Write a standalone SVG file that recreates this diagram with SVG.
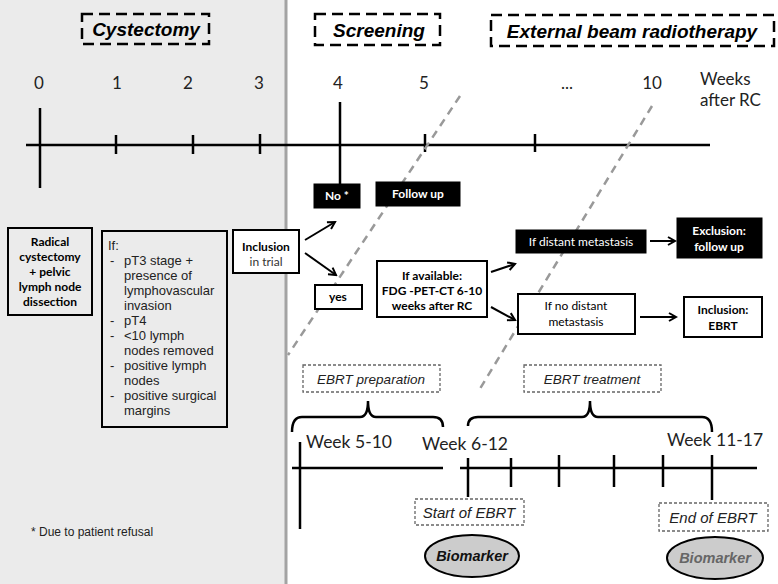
<svg xmlns="http://www.w3.org/2000/svg" width="778" height="584" viewBox="0 0 778 584">
<defs>
<marker id="arr" markerWidth="10" markerHeight="10" refX="8" refY="5" orient="auto" markerUnits="userSpaceOnUse">
<path d="M1,1 L8,5 L1,9" fill="none" stroke="#000" stroke-width="2"/>
</marker>
<style>
.tl{stroke:#000;stroke-width:2.5;fill:none}
.num{font-family:Lato,"Open Sans",sans-serif;font-size:17px;fill:#222;text-anchor:middle}
.title{font-family:"Liberation Sans",Arial,sans-serif;font-size:19px;font-weight:bold;font-style:italic;fill:#000;text-anchor:middle}
.tbox{fill:none;stroke:#000;stroke-width:2.5;stroke-dasharray:11 6}
.dash{stroke:#999;stroke-width:2.5;stroke-dasharray:8 6;fill:none}
.wbox{fill:#fff;stroke:#000;stroke-width:2}
.gfill{fill:#ebebeb;stroke:#000;stroke-width:2}
.bbox{fill:#000;stroke:#000;stroke-width:1}
.lb{font-family:Lato,"Open Sans",sans-serif;font-size:12px;text-anchor:middle;fill:#000}
.b{font-weight:bold}
.w{fill:#fff}
.arial{font-family:"Liberation Sans",Arial,sans-serif;font-size:13px;fill:#222}
.gbox{fill:none;stroke:#666;stroke-width:1.3;stroke-dasharray:3 2}
.it{font-family:"Liberation Sans",Arial,sans-serif;font-style:italic;text-anchor:middle;fill:#222}
.wk{font-family:Lato,"Open Sans",sans-serif;font-size:17.5px;fill:#222}
.conn{stroke:#000;stroke-width:2;fill:none;marker-end:url(#arr)}
</style>
</defs>
<rect x="0" y="0" width="778" height="584" fill="#fff"/>
<rect x="0" y="0" width="286" height="584" fill="#ebebeb"/>
<line x1="286" y1="0" x2="286" y2="584" stroke="#a3a3a3" stroke-width="3"/>

<g id="titles">
<rect class="tbox" x="82" y="14" width="127" height="30"/>
<text class="title" x="146" y="36">Cystectomy</text>
<rect class="tbox" x="315" y="14" width="125" height="31"/>
<text class="title" x="379" y="37">Screening</text>
<rect class="tbox" x="491" y="15" width="283" height="31"/>
<text class="title" x="632" y="38">External beam radiotherapy</text>
</g>

<g id="timeline-top">
<text class="num" x="39" y="89">0</text>
<text class="num" x="117" y="89">1</text>
<text class="num" x="188" y="89">2</text>
<text class="num" x="259" y="89">3</text>
<text class="num" x="338" y="89">4</text>
<text class="num" x="424" y="89">5</text>
<text class="num" x="567" y="89">...</text>
<text class="num" x="652" y="89">10</text>
<text class="num" x="700" y="85" style="text-anchor:start">Weeks</text>
<text class="num" x="700" y="106" style="text-anchor:start">after RC</text>
<line class="tl" x1="26" y1="145" x2="710" y2="145"/>
<line class="tl" x1="40" y1="108" x2="40" y2="188"/>
<line class="tl" x1="116" y1="135" x2="116" y2="154"/>
<line class="tl" x1="193" y1="135" x2="193" y2="154"/>
<line class="tl" x1="260" y1="134" x2="260" y2="154"/>
<line class="tl" x1="340" y1="102" x2="340" y2="184"/>
<line class="tl" x1="425" y1="134" x2="425" y2="152"/>
<line class="tl" x1="535" y1="134" x2="535" y2="152"/>
</g>

<g id="dashed-dividers">
<line class="dash" x1="460" y1="96" x2="288" y2="355"/>
<line class="dash" x1="652" y1="106" x2="478" y2="392"/>
</g>

<g id="radical">
<rect class="gfill" x="8" y="228" width="84" height="87"/>
<text class="lb b" x="50" y="246">Radical</text>
<text class="lb b" x="50" y="261">cystectomy</text>
<text class="lb b" x="50" y="276">+ pelvic</text>
<text class="lb b" x="50" y="291">lymph node</text>
<text class="lb b" x="50" y="306">dissection</text>
</g>

<g id="criteria">
<rect class="gfill" x="102" y="231" width="125" height="196"/>
<text class="arial" x="108" y="250">If:</text>
<text class="arial" x="110" y="265">-</text>
<text class="arial" x="124" y="265">pT3 stage +</text>
<text class="arial" x="124" y="280">presence of</text>
<text class="arial" x="124" y="295">lymphovascular</text>
<text class="arial" x="124" y="310">invasion</text>
<text class="arial" x="110" y="325">-</text>
<text class="arial" x="124" y="325">pT4</text>
<text class="arial" x="110" y="340">-</text>
<text class="arial" x="124" y="340">&lt;10 lymph</text>
<text class="arial" x="124" y="355">nodes removed</text>
<text class="arial" x="110" y="370">-</text>
<text class="arial" x="124" y="370">positive lymph</text>
<text class="arial" x="124" y="385">nodes</text>
<text class="arial" x="110" y="400">-</text>
<text class="arial" x="124" y="400">positive surgical</text>
<text class="arial" x="124" y="415">margins</text>
</g>

<g id="inclusion">
<rect class="wbox" x="233" y="230" width="66" height="43"/>
<text class="lb b" x="266" y="251">Inclusion</text>
<text class="lb" x="266" y="266" style="fill:#333">in trial</text>
</g>

<g id="no">
<rect class="bbox" x="314" y="184" width="46" height="24"/>
<text class="lb b w" x="337" y="200">No *</text>
</g>

<g id="followup">
<rect class="bbox" x="376" y="182" width="84" height="24"/>
<text class="lb b w" x="418" y="198">Follow up</text>
</g>

<g id="yes">
<rect class="wbox" x="315" y="285" width="47" height="24"/>
<text class="lb b" x="338" y="301">yes</text>
</g>

<g id="pet">
<rect class="wbox" x="377" y="261" width="110" height="56"/>
<text class="lb b" x="432" y="280">If available:</text>
<text class="lb b" x="432" y="295">FDG -PET-CT 6-10</text>
<text class="lb b" x="432" y="310">weeks after RC</text>
</g>

<g id="distant">
<rect class="bbox" x="516" y="230" width="130" height="23"/>
<text class="lb w" x="581" y="246">If distant metastasis</text>
</g>

<g id="exclusion">
<rect class="bbox" x="677" y="218" width="85" height="40"/>
<text class="lb b w" x="719" y="235">Exclusion:</text>
<text class="lb b w" x="719" y="251">follow up</text>
</g>

<g id="nodistant">
<rect class="wbox" x="518" y="294" width="117" height="40"/>
<text class="lb" x="576" y="310">If no distant</text>
<text class="lb" x="576" y="326">metastasis</text>
</g>

<g id="incl-ebrt">
<rect class="wbox" x="684" y="297" width="78" height="40"/>
<text class="lb b" x="723" y="314">Inclusion:</text>
<text class="lb b" x="723" y="330">EBRT</text>
</g>

<g id="connectors">
<line class="conn" x1="305" y1="240" x2="335" y2="222"/>
<line class="conn" x1="305" y1="253" x2="336" y2="275"/>
<line class="conn" x1="491" y1="272" x2="515" y2="264"/>
<line class="conn" x1="491" y1="307" x2="515" y2="320"/>
<line class="conn" x1="650" y1="241" x2="675" y2="241"/>
<line class="conn" x1="640" y1="317" x2="676" y2="317"/>
</g>

<g id="ebrt-prep">
<rect class="gbox" x="303" y="365" width="137" height="27"/>
<text class="it" x="371" y="384" font-size="13.5">EBRT preparation</text>
<path class="tl" stroke-width="2" d="M292,432 Q292,417 302,417 L360,417 Q368,417 368,401 Q368,417 376,417 L433,417 Q443,417 443,427"/>
</g>

<g id="ebrt-treat">
<rect class="gbox" x="524" y="365" width="137" height="27"/>
<text class="it" x="592" y="384" font-size="13.5">EBRT treatment</text>
<path class="tl" stroke-width="2" d="M468,426 Q468,417 478,417 L582,417 Q590,417 590,401 Q590,417 598,417 L702,417 Q712,417 712,432"/>
</g>

<g id="timeline-bottom">
<text class="wk" x="306" y="448">Week 5-10</text>
<text class="wk" x="422" y="450">Week 6-12</text>
<text class="wk" x="667" y="446">Week 11-17</text>
<line class="tl" x1="292" y1="468" x2="443" y2="468"/>
<line class="tl" x1="460" y1="468" x2="757" y2="468"/>
<line class="tl" x1="300" y1="442" x2="300" y2="529"/>
<line class="tl" x1="468" y1="458" x2="468" y2="497"/>
<line class="tl" x1="511" y1="458" x2="511" y2="487"/>
<line class="tl" x1="559" y1="455" x2="559" y2="487"/>
<line class="tl" x1="614" y1="455" x2="614" y2="487"/>
<line class="tl" x1="663" y1="455" x2="663" y2="487"/>
<line class="tl" x1="712" y1="455" x2="712" y2="500"/>
</g>

<g id="start-ebrt">
<rect class="gbox" x="415" y="499" width="109" height="26"/>
<text class="it" x="469" y="518" font-size="15">Start of EBRT</text>
</g>

<g id="end-ebrt">
<rect class="gbox" x="659" y="503" width="109" height="28"/>
<text class="it" x="713" y="523" font-size="15">End of EBRT</text>
</g>

<g id="biomarker1">
<ellipse cx="472" cy="556" rx="47" ry="21" fill="#ccc" stroke="#000" stroke-width="2"/>
<text class="it" x="472" y="561" font-size="14.5" font-weight="bold" style="fill:#111">Biomarker</text>
</g>

<g id="biomarker2">
<ellipse cx="715" cy="558" rx="48" ry="21" fill="#ccc" stroke="#000" stroke-width="2"/>
<text class="it" x="715" y="563" font-size="14.5" font-weight="bold" style="fill:#666">Biomarker</text>
</g>

<text x="31" y="536" font-family="'Liberation Sans',Arial,sans-serif" font-size="12" fill="#222">* Due to patient refusal</text>
</svg>
